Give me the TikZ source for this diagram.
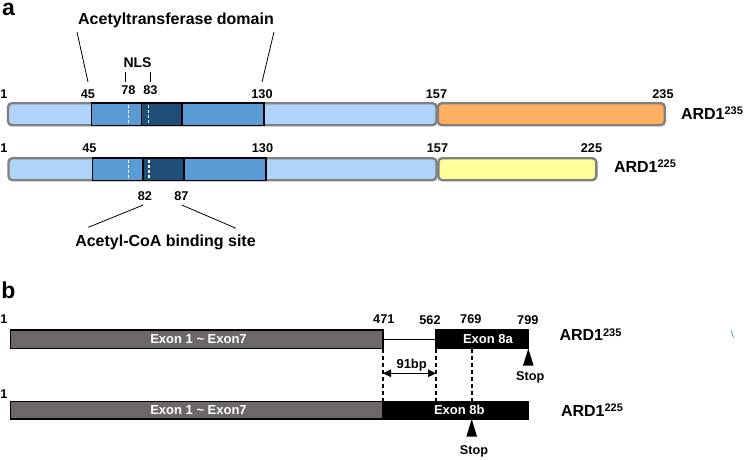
\documentclass[tikz,border=0pt]{standalone}
\usepackage{fontspec}
\setmainfont{Liberation Sans}
\usetikzlibrary{arrows.meta,calc}
\definecolor{lblue}{HTML}{AED4FA}
\definecolor{dblue}{HTML}{5B9BD5}
\definecolor{nblue}{HTML}{1F4E78}
\definecolor{orng}{HTML}{FFAF5F}
\definecolor{ylw}{HTML}{FFFF99}
\definecolor{exgray}{HTML}{6E6767}
\definecolor{bgray}{HTML}{808080}
\definecolor{artblue}{HTML}{5AA0E0}
\newcommand\supx[1]{\raisebox{4.4pt}{\fontsize{11}{11}\selectfont #1}}
\begin{document}
\begin{tikzpicture}[x=1pt,y=-1pt,
  every node/.style={font=\bfseries, inner sep=0pt, outer sep=0pt},
  num/.style={font=\bfseries\fontsize{12.7}{13}\selectfont},
  ttl/.style={font=\bfseries\fontsize{16}{18}\selectfont},
  iso/.style={font=\bfseries\fontsize{16}{18}\selectfont, anchor=base west},
  panel/.style={font=\bfseries\fontsize{23}{24}\selectfont},
  pbar/.style={draw=bgray, line width=2.4pt, rounded corners=4pt, anchor=north west},
  dom/.style={draw=black, line width=1.3pt, fill=dblue, anchor=north west},
  nlsbox/.style={draw=black, line width=1.3pt, fill=nblue, anchor=north west},
  wdash/.style={draw=white, line width=1.5pt, dash pattern=on 3pt off 2pt},
  exbox/.style={draw=black, line width=1.4pt, anchor=north west},
  extxt/.style={text=white, font=\bfseries\fontsize{13}{14}\selectfont},
  guide/.style={draw=black, line width=1.6pt, dash pattern=on 4.5pt off 2.5pt},
  thin/.style={draw=black, line width=0.8pt}
]
\useasboundingbox (0,0) rectangle (750,460);

% ---------------- panel a ----------------
\node[panel] (pa) at (8.5,9.5) {a};
\node[ttl] (atd) at (176,20) {Acetyltransferase domain};
\node[font=\bfseries\fontsize{14}{15}\selectfont] (nls) at (137.5,62.5) {NLS};

% bar 1
\node[pbar, fill=lblue, minimum width=428.5pt, minimum height=22pt] (b1L) at (8,103.2) {};
\node[pbar, fill=orng, minimum width=227pt, minimum height=22pt] (b1R) at (437.8,103.2) {};
\node[dom, minimum width=172.5pt, minimum height=22.5pt] (d1) at (91.5,103) {};
\node[nlsbox, minimum width=40.5pt, minimum height=22.5pt] (n1) at (141.5,103) {};
\coordinate (w1a) at (128.3,104.5);
\coordinate (w1b) at (148.3,104.5);
\draw[wdash] (w1a) -- ++(0,20);
\draw[wdash] (w1b) -- ++(0,20);

\node[num] (a1) at (4,94) {1};
\node[num] (a45) at (88,94) {45};
\node[num] (a78) at (128.5,89.7) {78};
\node[num] (a83) at (150.5,89.7) {83};
\node[num] (a130) at (262,94) {130};
\node[num] (a157) at (436.5,94) {157};
\node[num] (a235) at (663,94) {235};
\node[iso] (iso1) at (681,119) {ARD1\supx{235}};

% connectors of panel a top
\coordinate (t1) at (77,32);
\coordinate (t2) at (88,82);
\coordinate (t3) at (274,32);
\coordinate (t4) at (262,82);
\draw[thin] (t1) -- (t2);
\draw[thin] (t3) -- (t4);
\coordinate (k1a) at (125.7,72);
\coordinate (k1b) at (125.7,82);
\coordinate (k2a) at (150,72);
\coordinate (k2b) at (150,82);
\draw[thin] (k1a) -- (k1b);
\draw[thin] (k2a) -- (k2b);

% bar 2
\node[pbar, fill=lblue, minimum width=428pt, minimum height=22pt] (b2L) at (8.5,158.2) {};
\node[pbar, fill=ylw, minimum width=158pt, minimum height=22pt] (b2R) at (438.3,158.2) {};
\node[dom, minimum width=173.7pt, minimum height=22.5pt] (d2) at (92.3,158) {};
\node[nlsbox, minimum width=41pt, minimum height=22.5pt] (n2) at (143,158) {};
\coordinate (w2a) at (128.7,159.5);
\coordinate (w2b) at (149,159.5);
\draw[wdash] (w2a) -- ++(0,20);
\draw[wdash] (w2b) -- ++(0,20);

\node[num] (c1) at (4,148.5) {1};
\node[num] (c45) at (89.5,148.5) {45};
\node[num] (c130) at (262.5,148.5) {130};
\node[num] (c157) at (437.5,148.5) {157};
\node[num] (c225) at (591.5,148.5) {225};
\node[iso] (iso2) at (614,172) {ARD1\supx{225}};

\node[num] (c82) at (145,196) {82};
\node[num] (c87) at (181.5,196) {87};
\node[ttl] (acb) at (165.5,242) {Acetyl-CoA binding site};
\coordinate (u1) at (143.3,205);
\coordinate (u2) at (88.3,227.3);
\coordinate (u3) at (181.7,205);
\coordinate (u4) at (236,228.3);
\draw[thin] (u1) -- (u2);
\draw[thin] (u3) -- (u4);

% ---------------- panel b ----------------
\node[panel] (pb) at (8.5,290.5) {b};

\node[exbox, fill=exgray, minimum width=372.3pt, minimum height=18.5pt] (g1) at (10.7,330) {};
\node[exbox, fill=black, minimum width=92.3pt, minimum height=18.5pt] (e1) at (436,330) {};
\draw[line width=1.3pt] (g1.east) -- (e1.west);
\node[extxt] (x1) at (198.5,339) {Exon 1 \textasciitilde{} Exon7};
\node[extxt] (x8a) at (488,339) {Exon 8a};

\node[exbox, fill=exgray, minimum width=372.3pt, minimum height=17.5pt] (g2) at (10.7,401.5) {};
\node[exbox, fill=black, minimum width=145.3pt, minimum height=17.5pt] (e2) at (383,401.5) {};
\node[extxt] (x2) at (198.5,410) {Exon 1 \textasciitilde{} Exon7};
\node[extxt] (x8b) at (459.3,410) {Exon 8b};

\node[num] (p1) at (4,318.7) {1};
\node[num] (p471) at (383.8,318.8) {471};
\node[num] (p562) at (430,319.7) {562};
\node[num] (p769) at (470.8,318.7) {769};
\node[num] (p799) at (527.8,320) {799};
\node[num] (q1) at (4,394) {1};
\node[iso] (iso3) at (559.5,340.7) {ARD1\supx{235}};
\node[iso] (iso4) at (561,416) {ARD1\supx{225}};

% dashed guides
\coordinate (s2) at (471.7,419);
\draw[guide] (g1.south east) -- (g2.north east);
\draw[guide] (e1.south west) -- (e1.south west |- g2.north);
\draw[guide] (s2 |- e1.south) -- (s2 |- e2.north);

% 91bp arrow
\coordinate (ar) at (400,373.3);
\draw[line width=1.3pt, {Triangle[length=8pt,width=7.5pt]}-{Triangle[length=8pt,width=7.5pt]}]
  (g1.south east |- ar) -- (e1.south west |- ar);
\node[font=\bfseries\fontsize{13}{14}\selectfont] (bp) at (411.7,365) {91bp};

% stop codons
\fill (e1.south east) -- ++(-5.3,17) -- ++(10.6,0) -- cycle;
\node[num] (st1) at (530.3,377.7) {Stop};
\fill (s2) -- ++(-5.3,17.5) -- ++(10.6,0) -- cycle;
\node[num] (st2) at (474,451.7) {Stop};

% small stray mark
\coordinate (m1) at (731,330);
\coordinate (m2) at (733.5,337.5);
\draw[draw=artblue, line width=0.9pt] (m1) -- (m2);
\end{tikzpicture}
\end{document}
